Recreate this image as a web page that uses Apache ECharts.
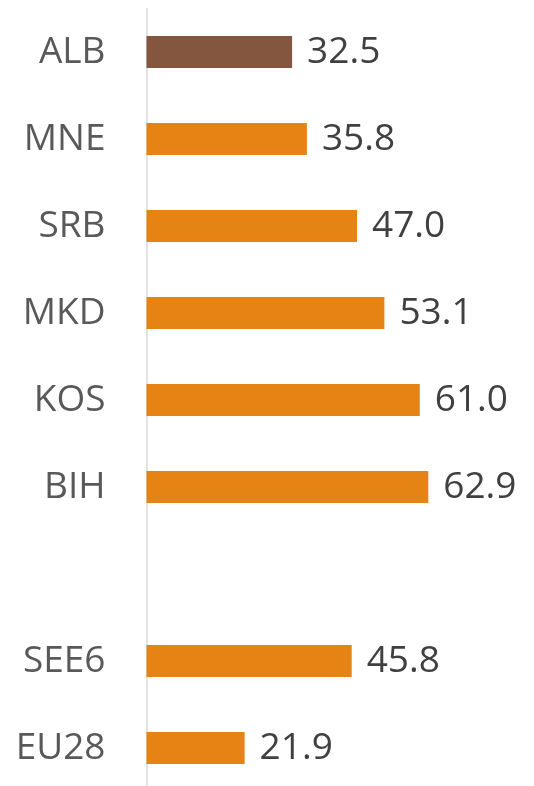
<!DOCTYPE html>
<html><head><meta charset="utf-8">
<style>html,body{margin:0;padding:0;background:#fff}#c{width:534px;height:786px}</style>
<script src="https://cdn.jsdelivr.net/npm/echarts@6/dist/echarts.min.js"></script>
</head><body><div id="c"></div>
<script>
const categories = ['ALB','MNE','SRB','MKD','KOS','BIH','','SEE6','EU28'];
const values = [32.5, 35.8, 47.0, 53.1, 61.0, 62.9, null, 45.8, 21.9];
const highlight = 'ALB';
const chart = echarts.init(document.getElementById('c'));
chart.setOption({
  animation:false,
  grid:{left:146.5, top:8.5, width:358.4, height:783, containLabel:false, outerBoundsMode:'none'},
  xAxis:{type:'value', min:0, max:80, show:false},
  yAxis:{type:'category', data:categories, inverse:true,
    axisLine:{show:true, lineStyle:{color:'#d9d9d9', width:1.5}},
    axisTick:{show:false},
    axisLabel:{color:'#595959', fontSize:37, fontFamily:'Open Sans', margin:41}},
  series:[{type:'bar', barWidth:32,
    data: values.map((v,i)=>({value:v, itemStyle:{color: categories[i]===highlight ? '#845640' : '#e58314'}})),
    label:{show:true, position:'right', distance:15, color:'#404040', fontSize:37, fontFamily:'Open Sans',
      formatter:p=>p.value==null?'':p.value.toFixed(1)}
  }]
});
</script></body></html>
